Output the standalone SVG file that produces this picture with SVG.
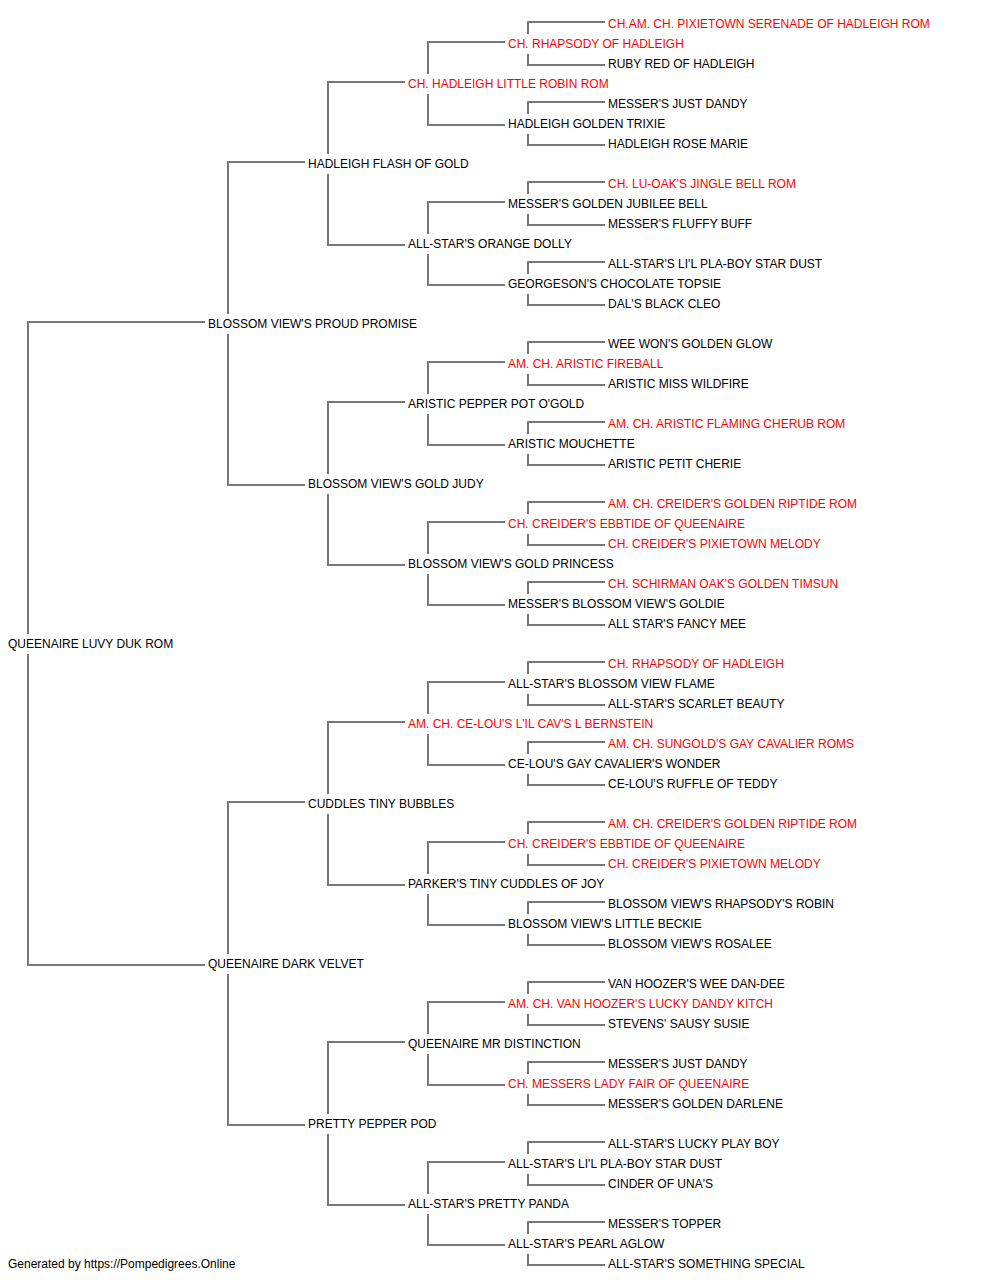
<svg xmlns="http://www.w3.org/2000/svg" width="1000" height="1280" viewBox="0 0 1000 1280">
<style>
text{font-family:"Liberation Sans",Arial,sans-serif;font-size:12px;fill:#000}
.r{fill:#ff0000}
.c{fill:none;stroke:#777;stroke-width:2}
</style>
<rect width="1000" height="1280" fill="#fff"/>
<g id="connectors" class="c">
<path d="M205,322H28V634M28,654V965H205"/>
<path d="M305,162H228V314M228,334V485H305"/>
<path d="M305,802H228V954M228,974V1125H305"/>
<path d="M405,82H328V154M328,174V245H405"/>
<path d="M405,402H328V474M328,494V565H405"/>
<path d="M405,722H328V794M328,814V885H405"/>
<path d="M405,1042H328V1114M328,1134V1205H405"/>
<path d="M505,42H428V74M428,94V125H505"/>
<path d="M505,202H428V234M428,254V285H505"/>
<path d="M505,362H428V394M428,414V445H505"/>
<path d="M505,522H428V554M428,574V605H505"/>
<path d="M505,682H428V714M428,734V765H505"/>
<path d="M505,842H428V874M428,894V925H505"/>
<path d="M505,1002H428V1034M428,1054V1085H505"/>
<path d="M505,1162H428V1194M428,1214V1245H505"/>
<path d="M605,22H528V34M528,54V65H605"/>
<path d="M605,102H528V114M528,134V145H605"/>
<path d="M605,182H528V194M528,214V225H605"/>
<path d="M605,262H528V274M528,294V305H605"/>
<path d="M605,342H528V354M528,374V385H605"/>
<path d="M605,422H528V434M528,454V465H605"/>
<path d="M605,502H528V514M528,534V545H605"/>
<path d="M605,582H528V594M528,614V625H605"/>
<path d="M605,662H528V674M528,694V705H605"/>
<path d="M605,742H528V754M528,774V785H605"/>
<path d="M605,822H528V834M528,854V865H605"/>
<path d="M605,902H528V914M528,934V945H605"/>
<path d="M605,982H528V994M528,1014V1025H605"/>
<path d="M605,1062H528V1074M528,1094V1105H605"/>
<path d="M605,1142H528V1154M528,1174V1185H605"/>
<path d="M605,1222H528V1234M528,1254V1265H605"/>
</g>
<g id="nodes">
<g id="n1"><text class="r" x="608" y="28">CH.AM. CH. PIXIETOWN SERENADE OF HADLEIGH ROM</text></g>
<g id="n2"><text class="r" x="508" y="48">CH. RHAPSODY OF HADLEIGH</text></g>
<g id="n3"><text x="608" y="68">RUBY RED OF HADLEIGH</text></g>
<g id="n4"><text class="r" x="408" y="88">CH. HADLEIGH LITTLE ROBIN ROM</text></g>
<g id="n5"><text x="608" y="108">MESSER'S JUST DANDY</text></g>
<g id="n6"><text x="508" y="128">HADLEIGH GOLDEN TRIXIE</text></g>
<g id="n7"><text x="608" y="148">HADLEIGH ROSE MARIE</text></g>
<g id="n8"><text x="308" y="168">HADLEIGH FLASH OF GOLD</text></g>
<g id="n9"><text class="r" x="608" y="188">CH. LU-OAK'S JINGLE BELL ROM</text></g>
<g id="n10"><text x="508" y="208">MESSER'S GOLDEN JUBILEE BELL</text></g>
<g id="n11"><text x="608" y="228">MESSER'S FLUFFY BUFF</text></g>
<g id="n12"><text x="408" y="248">ALL-STAR'S ORANGE DOLLY</text></g>
<g id="n13"><text x="608" y="268">ALL-STAR'S LI'L PLA-BOY STAR DUST</text></g>
<g id="n14"><text x="508" y="288">GEORGESON'S CHOCOLATE TOPSIE</text></g>
<g id="n15"><text x="608" y="308">DAL'S BLACK CLEO</text></g>
<g id="n16"><text x="208" y="328">BLOSSOM VIEW'S PROUD PROMISE</text></g>
<g id="n17"><text x="608" y="348">WEE WON'S GOLDEN GLOW</text></g>
<g id="n18"><text class="r" x="508" y="368">AM. CH. ARISTIC FIREBALL</text></g>
<g id="n19"><text x="608" y="388">ARISTIC MISS WILDFIRE</text></g>
<g id="n20"><text x="408" y="408">ARISTIC PEPPER POT O'GOLD</text></g>
<g id="n21"><text class="r" x="608" y="428">AM. CH. ARISTIC FLAMING CHERUB ROM</text></g>
<g id="n22"><text x="508" y="448">ARISTIC MOUCHETTE</text></g>
<g id="n23"><text x="608" y="468">ARISTIC PETIT CHERIE</text></g>
<g id="n24"><text x="308" y="488">BLOSSOM VIEW'S GOLD JUDY</text></g>
<g id="n25"><text class="r" x="608" y="508">AM. CH. CREIDER'S GOLDEN RIPTIDE ROM</text></g>
<g id="n26"><text class="r" x="508" y="528">CH. CREIDER'S EBBTIDE OF QUEENAIRE</text></g>
<g id="n27"><text class="r" x="608" y="548">CH. CREIDER'S PIXIETOWN MELODY</text></g>
<g id="n28"><text x="408" y="568">BLOSSOM VIEW'S GOLD PRINCESS</text></g>
<g id="n29"><text class="r" x="608" y="588">CH. SCHIRMAN OAK'S GOLDEN TIMSUN</text></g>
<g id="n30"><text x="508" y="608">MESSER'S BLOSSOM VIEW'S GOLDIE</text></g>
<g id="n31"><text x="608" y="628">ALL STAR'S FANCY MEE</text></g>
<g id="n32"><text x="8" y="648">QUEENAIRE LUVY DUK ROM</text></g>
<g id="n33"><text class="r" x="608" y="668">CH. RHAPSODY OF HADLEIGH</text></g>
<g id="n34"><text x="508" y="688">ALL-STAR'S BLOSSOM VIEW FLAME</text></g>
<g id="n35"><text x="608" y="708">ALL-STAR'S SCARLET BEAUTY</text></g>
<g id="n36"><text class="r" x="408" y="728">AM. CH. CE-LOU'S L'IL CAV'S L BERNSTEIN</text></g>
<g id="n37"><text class="r" x="608" y="748">AM. CH. SUNGOLD'S GAY CAVALIER ROMS</text></g>
<g id="n38"><text x="508" y="768">CE-LOU'S GAY CAVALIER'S WONDER</text></g>
<g id="n39"><text x="608" y="788">CE-LOU'S RUFFLE OF TEDDY</text></g>
<g id="n40"><text x="308" y="808">CUDDLES TINY BUBBLES</text></g>
<g id="n41"><text class="r" x="608" y="828">AM. CH. CREIDER'S GOLDEN RIPTIDE ROM</text></g>
<g id="n42"><text class="r" x="508" y="848">CH. CREIDER'S EBBTIDE OF QUEENAIRE</text></g>
<g id="n43"><text class="r" x="608" y="868">CH. CREIDER'S PIXIETOWN MELODY</text></g>
<g id="n44"><text x="408" y="888">PARKER'S TINY CUDDLES OF JOY</text></g>
<g id="n45"><text x="608" y="908">BLOSSOM VIEW'S RHAPSODY'S ROBIN</text></g>
<g id="n46"><text x="508" y="928">BLOSSOM VIEW'S LITTLE BECKIE</text></g>
<g id="n47"><text x="608" y="948">BLOSSOM VIEW'S ROSALEE</text></g>
<g id="n48"><text x="208" y="968">QUEENAIRE DARK VELVET</text></g>
<g id="n49"><text x="608" y="988">VAN HOOZER'S WEE DAN-DEE</text></g>
<g id="n50"><text class="r" x="508" y="1008">AM. CH. VAN HOOZER'S LUCKY DANDY KITCH</text></g>
<g id="n51"><text x="608" y="1028">STEVENS' SAUSY SUSIE</text></g>
<g id="n52"><text x="408" y="1048">QUEENAIRE MR DISTINCTION</text></g>
<g id="n53"><text x="608" y="1068">MESSER'S JUST DANDY</text></g>
<g id="n54"><text class="r" x="508" y="1088">CH. MESSERS LADY FAIR OF QUEENAIRE</text></g>
<g id="n55"><text x="608" y="1108">MESSER'S GOLDEN DARLENE</text></g>
<g id="n56"><text x="308" y="1128">PRETTY PEPPER POD</text></g>
<g id="n57"><text x="608" y="1148">ALL-STAR'S LUCKY PLAY BOY</text></g>
<g id="n58"><text x="508" y="1168">ALL-STAR'S LI'L PLA-BOY STAR DUST</text></g>
<g id="n59"><text x="608" y="1188">CINDER OF UNA'S</text></g>
<g id="n60"><text x="408" y="1208">ALL-STAR'S PRETTY PANDA</text></g>
<g id="n61"><text x="608" y="1228">MESSER'S TOPPER</text></g>
<g id="n62"><text x="508" y="1248">ALL-STAR'S PEARL AGLOW</text></g>
<g id="n63"><text x="608" y="1268">ALL-STAR'S SOMETHING SPECIAL</text></g>
</g>
<text id="footer" x="8" y="1268">Generated by https://Pompedigrees.Online</text>
</svg>
